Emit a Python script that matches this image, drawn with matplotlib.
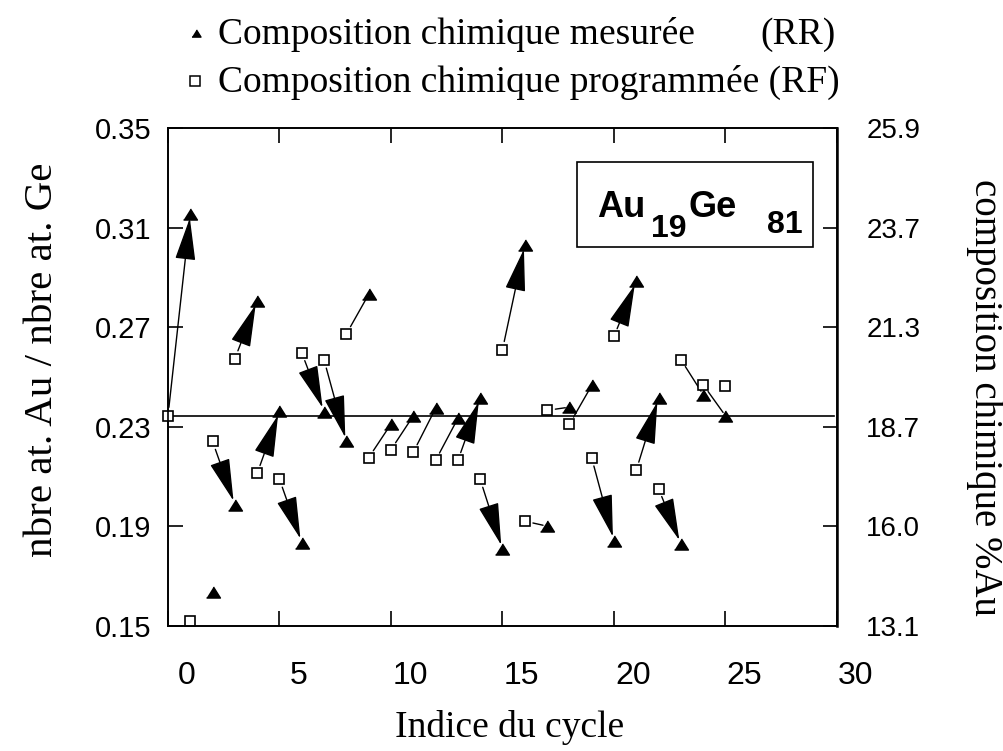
import matplotlib
matplotlib.use("Agg")
import numpy as np
import matplotlib.pyplot as plt
from matplotlib.transforms import ScaledTranslation
from matplotlib.patches import Rectangle
from matplotlib.lines import Line2D

# composition programmee (RF), carres : indice du cycle 0..25
cycle_rf = list(range(0, 26))
rf = [0.2345, 0.1519, 0.2241, 0.2574, 0.2113, 0.2089, 0.2597, 0.2568, 0.2673, 0.2176,
      0.2208, 0.2198, 0.2165, 0.2165, 0.2089, 0.2610, 0.1921, 0.2366, 0.2310, 0.2175,
      0.2663, 0.2126, 0.2051, 0.2570, 0.2469, 0.2462]

# composition mesuree (RR), triangles : indice du cycle 1..25
cycle_rr = list(range(1, 26))
rr = [0.3155, 0.1637, 0.1987, 0.2806, 0.2363, 0.1835, 0.2361, 0.2241, 0.2832, 0.2311,
      0.2344, 0.2374, 0.2334, 0.2416, 0.1809, 0.3030, 0.1901, 0.2379, 0.2466, 0.1842,
      0.2885, 0.2416, 0.1829, 0.2429, 0.2344]

# cycles programmes relies a la mesure du cycle suivant
linked_cycles = [0, 2, 3, 4, 5, 6, 7, 8, 9, 10, 11, 12, 13, 14, 15, 16, 17, 18, 19,
                 20, 21, 22, 23, 24]

target = 0.2345

y_ticks = [0.15, 0.19, 0.23, 0.27, 0.31, 0.35]
y_labels = ["0.15", "0.19", "0.23", "0.27", "0.31", "0.35"]
y2_labels = ["13.1", "16.0", "18.7", "21.3", "23.7", "25.9"]
x_ticks = [0, 5, 10, 15, 20, 25, 30]

W, H = 1004, 751
serif = ["Liberation Serif", "DejaVu Serif"]
sans = ["Liberation Sans", "DejaVu Sans"]
narrow = ["Liberation Sans Narrow", "Liberation Sans", "DejaVu Sans"]


def fx(px):
    return px / W


def fy(py):
    return 1 - py / H


fig = plt.figure(figsize=(W / 100, H / 100), dpi=100)
ax = fig.add_axes([fx(168), fy(626), fx(837) - fx(168), fy(128) - fy(626)])

ax.set_xlim(0, 30)
ax.set_ylim(0.15, 0.35)

for sp in ax.spines.values():
    sp.set_linewidth(1.2)

# ligne de la composition visee
ax.plot([0, 29.85], [target, target], color="black", lw=1.2, zorder=2)

# fleches programme -> mesure (tete seulement pour les grands ecarts)
tri = dict(zip(cycle_rr, rr))
for c in linked_cycles:
    p0 = ax.transData.transform((c, rf[c]))
    p1 = ax.transData.transform((c + 1, tri[c + 1]))
    dist = np.hypot(*(p1 - p0))
    if dist > 50:
        style = "-|>,head_length=2.7,head_width=0.65"
    else:
        style = "-"
    ax.annotate("", xy=(c + 1, tri[c + 1]), xytext=(c, rf[c]),
                arrowprops=dict(arrowstyle=style, color="black", lw=1.0,
                                mutation_scale=10, shrinkA=6, shrinkB=3),
                zorder=2)

tri_marker = [(-1, -0.8), (1, -0.8), (0, 0.8)]
ax.plot(cycle_rr, rr, linestyle="none", marker=tri_marker, markersize=10,
        color="black", zorder=4, clip_on=False)
ax.plot(cycle_rf, rf, linestyle="none", marker="s", markersize=7.8,
        markerfacecolor="white", markeredgecolor="black", markeredgewidth=1.2,
        zorder=5, clip_on=False)

# axes
ax.set_xticks(x_ticks)
ax.set_xticklabels([str(v) for v in x_ticks], fontsize=23, family=narrow)
ax.set_yticks(y_ticks)
ax.set_yticklabels(y_labels, fontsize=21, family=sans)
ax.tick_params(axis="both", direction="in", length=11, width=1.2,
               top=True, right=False)
ax.tick_params(axis="x", pad=25)
ax.tick_params(axis="y", pad=12)
shift = ScaledTranslation(0.19, 0, fig.dpi_scale_trans)
for lab in ax.get_xticklabels():
    lab.set_transform(lab.get_transform() + shift)

ax2 = ax.twinx()
ax2.set_ylim(0.15, 0.35)
ax2.set_yticks(y_ticks)
ax2.set_yticklabels(y2_labels, fontsize=20, family=sans)
ax2.tick_params(axis="y", direction="in", length=10, width=1.2, pad=21)
for sp in ax2.spines.values():
    sp.set_linewidth(1.2)
ax2.spines["right"].set_linewidth(1.8)

# etiquettes des axes
fig.text(fx(43), fy(360), "nbre at. Au / nbre at. Ge", rotation=90,
         ha="center", va="center", fontsize=29.5, family=serif)
fig.text(fx(985), fy(397), "composition chimique %Au", rotation=270,
         ha="center", va="center", fontsize=28, family=serif)
fig.text(fx(510), fy(737), "Indice du cycle", ha="center", va="baseline",
         fontsize=27, family=serif)

# legende en haut
fig.add_artist(Line2D([fx(196)], [fy(33)], marker=tri_marker, markersize=6.5,
                      color="black", transform=fig.transFigure))
fig.add_artist(Line2D([fx(195)], [fy(81)], marker="s", markersize=7,
                      markerfacecolor="white", markeredgecolor="black",
                      markeredgewidth=1.1, transform=fig.transFigure))
fig.text(fx(218), fy(44), "Composition chimique mesurée", ha="left",
         va="baseline", fontsize=27, family=serif)
fig.text(fx(836), fy(44), "(RR)", ha="right", va="baseline",
         fontsize=27, family=serif)
fig.text(fx(218), fy(92), "Composition chimique programmée (RF)", ha="left",
         va="baseline", fontsize=27, family=serif)

# encadre de l'alliage
fig.add_artist(Rectangle((fx(577), fy(247)), fx(813) - fx(577), fy(162) - fy(247),
                         fill=False, edgecolor="black", lw=1.2,
                         transform=fig.transFigure))
fig.text(fx(597), fy(217), "Au", ha="left", va="baseline", fontsize=26,
         weight="bold", family=sans)
fig.text(fx(651), fy(237), "19", ha="left", va="baseline", fontsize=23,
         weight="bold", family=sans)
fig.text(fx(689), fy(217), "Ge", ha="left", va="baseline", fontsize=26,
         weight="bold", family=sans)
fig.text(fx(767), fy(233), "81", ha="left", va="baseline", fontsize=23,
         weight="bold", family=sans)

fig.savefig("out.png", dpi=100)
